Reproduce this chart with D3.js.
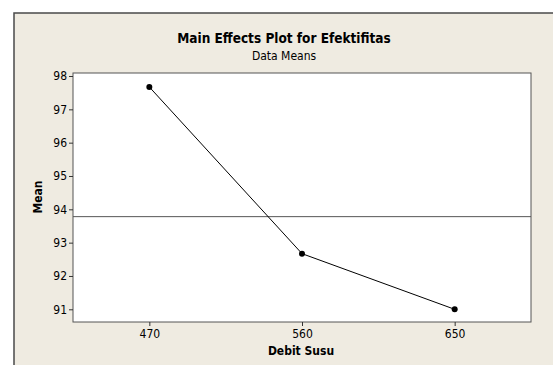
<!DOCTYPE html>
<html>
<head>
<meta charset="utf-8">
<script src="https://cdn.jsdelivr.net/npm/d3@7"></script>
<style>
  body { margin: 0; background: #fff; }
  svg { display: block; }
  text { font-family: "DejaVu Sans Condensed", "DejaVu Sans", sans-serif; fill: #000; }
</style>
</head>
<body>
<svg id="chart" width="553" height="365"></svg>
<script>
// data
var levels = ["470", "560", "650"];
var means = [97.67, 92.67, 91.0];
var yTicks = [91, 92, 93, 94, 95, 96, 97, 98];
var grandMean = d3.mean(means);

var w = 553, h = 365;
var plotL = 73, plotT = 73, plotR = 531, plotB = 322;

var svg = d3.select("#chart");

// outer frame (cropped at the right and bottom)
svg.append("rect")
    .attr("x", 14).attr("y", 13)
    .attr("width", w).attr("height", h)
    .attr("fill", "#efebe1")
    .attr("stroke", "#4a4a4a")
    .attr("stroke-width", 1.5);

var x = d3.scalePoint().domain(levels).range([plotL, plotR]).padding(0.5);
var y = d3.scaleLinear().domain([98, 91]).range([76, 309.3]);

svg.append("rect")
    .attr("x", plotL).attr("y", plotT)
    .attr("width", plotR - plotL).attr("height", plotB - plotT)
    .attr("fill", "#fff")
    .attr("stroke", "#555")
    .attr("stroke-width", 1);

// axes
var yAxis = d3.axisLeft(y).tickValues(yTicks).tickSize(4).tickPadding(2).tickFormat(d3.format("d"));
var gy = svg.append("g").attr("transform", "translate(" + plotL + ",0)").call(yAxis);
var xAxis = d3.axisBottom(x).tickSize(4).tickPadding(3);
var gx = svg.append("g").attr("transform", "translate(0," + plotB + ")").call(xAxis);
[gy, gx].forEach(function (g) {
    g.select(".domain").remove();
    g.selectAll("line").attr("stroke", "#333");
    g.selectAll("text").style("font-size", "12px").attr("fill", "#000");
});

// reference line at the grand mean
svg.append("line")
    .attr("x1", plotL).attr("x2", plotR)
    .attr("y1", y(grandMean)).attr("y2", y(grandMean))
    .attr("stroke", "#555").attr("stroke-width", 1);

var line = d3.line()
    .x(function (d, i) { return x(levels[i]); })
    .y(function (d) { return y(d); });

svg.append("path")
    .datum(means)
    .attr("d", line)
    .attr("fill", "none")
    .attr("stroke", "#000")
    .attr("stroke-width", 1);

svg.selectAll("circle")
    .data(means)
    .enter()
    .append("circle")
    .attr("cx", function (d, i) { return x(levels[i]); })
    .attr("cy", function (d) { return y(d); })
    .attr("r", 3)
    .attr("fill", "#000");

// titles
svg.append("text")
    .attr("x", 284).attr("y", 43)
    .attr("text-anchor", "middle")
    .style("font-size", "13.5px").style("font-weight", "bold")
    .text("Main Effects Plot for Efektifitas");
svg.append("text")
    .attr("x", 284).attr("y", 60)
    .attr("text-anchor", "middle")
    .style("font-size", "12px")
    .text("Data Means");
svg.append("text")
    .attr("x", 301).attr("y", 355)
    .attr("text-anchor", "middle")
    .style("font-size", "12px").style("font-weight", "bold")
    .text("Debit Susu");
svg.append("text")
    .attr("transform", "translate(42,197) rotate(-90)")
    .attr("text-anchor", "middle")
    .style("font-size", "12px").style("font-weight", "bold")
    .text("Mean");
</script>
</body>
</html>
